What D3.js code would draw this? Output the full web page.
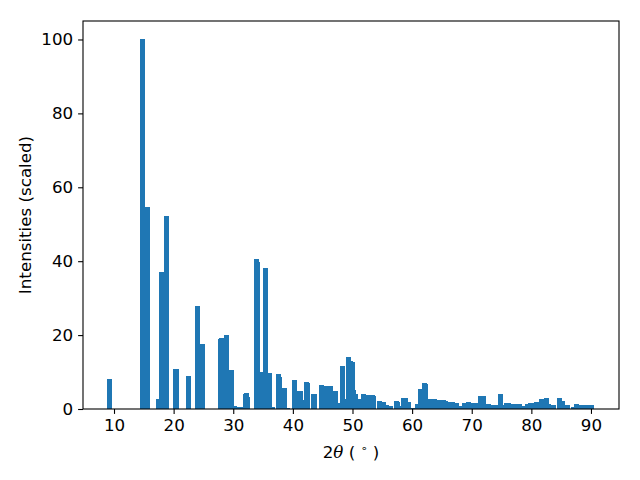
<!DOCTYPE html>
<html>
<head>
<meta charset="utf-8">
<script src="https://cdn.jsdelivr.net/npm/d3@7"></script>
<style>
  body { margin: 0; background: #fff; }
  svg { display: block; }
  text { font-family: "DejaVu Sans", sans-serif; }
</style>
</head>
<body>
<svg id="chart" width="640" height="480"></svg>
<script>
// 2θ positions (degrees) and scaled intensities
const twoTheta = [
  9.25, 14.78, 15.6, 17.46, 17.97, 18.8, 20.31, 20.48, 22.5, 24.0, 24.84,
  27.86, 28.03, 28.87, 29.71, 30.21, 30.71, 31.2, 32.05, 32.22, 32.39,
  33.9, 34.07, 34.9, 35.4, 36.08, 36.58, 37.59, 37.76, 38.6, 39.1,
  40.27, 41.11, 41.28, 41.45, 42.29, 42.45, 43.46, 43.6, 44.8, 45.64, 46.31,
  47.15, 47.82, 48.32, 48.49, 49.33, 49.67, 50.0, 50.17, 50.5, 51.0, 51.84,
  52.52, 53.35, 53.5, 54.53, 55.2, 55.7, 56.37, 57.38, 57.55, 57.7, 58.55, 58.89,
  59.39, 60.23, 60.9, 61.4, 62.07, 62.24, 63.08, 63.8, 64.6, 65.26, 65.6,
  66.44, 66.7, 67.44, 68.1, 68.79, 69.45, 70.13, 70.8, 71.47, 71.97, 72.8,
  73.65, 73.98, 74.82, 74.99, 75.83, 76.16, 77.0, 77.5, 78.0, 78.85, 79.35,
  79.85, 80.0, 80.86, 81.36, 81.7, 82.54, 82.87, 83.71, 84.72, 85.22, 86.06,
  87.07, 87.57, 88.41, 89.25, 90.08
];
const intensity = [
  8.1, 100, 54.6, 2.7, 37.1, 52.3, 10.9, 10.9, 9.0, 28.0, 17.7,
  19.0, 19.3, 20.0, 10.6, 0.8, 0.6, 0.6, 4.0, 4.3, 3.3,
  40.5, 39.7, 10.0, 38.2, 9.8, 0.6, 9.5, 8.7, 5.7, 0.3,
  7.9, 4.9, 4.9, 2.4, 7.3, 7.0, 4.1, 4.1, 6.5, 6.25, 6.25,
  4.9, 1.6, 11.7, 2.7, 14.1, 13.0, 12.8, 5.2, 4.1, 2.7, 4.1,
  3.8, 3.8, 3.5, 2.2, 1.9, 1.1, 0.8, 2.2, 1.9, 0.8, 3.0, 3.0,
  1.9, 0.3, 1.4, 5.4, 7.1, 6.8, 2.7, 2.7, 2.4, 2.4, 2.2,
  1.9, 1.9, 1.6, 0.8, 1.6, 2.0, 1.6, 1.6, 3.5, 3.5, 1.4,
  1.1, 1.1, 4.1, 1.1, 1.6, 1.6, 1.4, 1.4, 1.4, 0.8, 1.4,
  1.6, 1.6, 1.9, 1.9, 2.7, 3.0, 1.4, 1.1, 3.0, 2.2, 1.1,
  0.5, 1.4, 1.1, 1.1, 1.1
];
const xTicks = [10, 20, 30, 40, 50, 60, 70, 80, 90];
const yTicks = [0, 20, 40, 60, 80, 100];
const xDomain = [4.8, 94.7];
const yDomain = [0, 105];
const barWidth = 0.82;

const data = twoTheta.map((t, i) => ({ t, v: intensity[i] }));

const margin = { left: 83, right: 21, top: 21, bottom: 71 };
const W = 640, H = 480;
const svg = d3.select("#chart");

const x = d3.scaleLinear().domain(xDomain).range([margin.left, W - margin.right]);
const y = d3.scaleLinear().domain(yDomain).range([H - margin.bottom, margin.top]);

svg.append("g").attr("shape-rendering", "crispEdges")
  .selectAll("rect").data(data).join("rect")
  .attr("x", d => x(d.t - barWidth / 2))
  .attr("width", d => x(d.t + barWidth / 2) - x(d.t - barWidth / 2))
  .attr("y", d => y(d.v))
  .attr("height", d => y(0) - y(d.v))
  .attr("fill", "#1f77b4");

const fs = "16.7px";
const xAxis = svg.append("g")
  .attr("transform", `translate(0,${H - margin.bottom})`)
  .call(d3.axisBottom(x).tickValues(xTicks).tickSize(4.9).tickPadding(4.9).tickFormat(d3.format("d")));
const yAxis = svg.append("g")
  .attr("transform", `translate(${margin.left},0)`)
  .call(d3.axisLeft(y).tickValues(yTicks).tickSize(4.9).tickPadding(4.9).tickFormat(d3.format("d")));

[xAxis, yAxis].forEach(g => {
  g.select(".domain").remove();
  g.selectAll(".tick line").attr("stroke", "#000").attr("stroke-width", 1.1);
  g.selectAll(".tick text").attr("fill", "#000").style("font-size", fs)
    .style("font-family", "'DejaVu Sans', sans-serif");
});

// frame
svg.append("rect")
  .attr("x", margin.left).attr("y", margin.top)
  .attr("width", W - margin.left - margin.right)
  .attr("height", H - margin.top - margin.bottom)
  .attr("fill", "none").attr("stroke", "#000").attr("stroke-width", 1.1);

// x label: 2θ ( ° )
const xl = svg.append("text")
  .attr("x", (margin.left + W - margin.right) / 2)
  .attr("y", 458)
  .attr("text-anchor", "middle")
  .style("font-size", fs);
xl.append("tspan").text("2");
xl.append("tspan").style("font-family", "'DejaVu Serif', serif").style("font-style", "italic").text("θ");
xl.append("tspan").text(" ( ");
xl.append("tspan").attr("dy", -6).style("font-size", "11px").text("∘");
xl.append("tspan").attr("dy", 6).text(" )");

// y label
svg.append("text")
  .attr("transform", `translate(31,${(margin.top + H - margin.bottom) / 2}) rotate(-90)`)
  .attr("text-anchor", "middle")
  .style("font-size", fs)
  .text("Intensities (scaled)");
</script>
</body>
</html>
